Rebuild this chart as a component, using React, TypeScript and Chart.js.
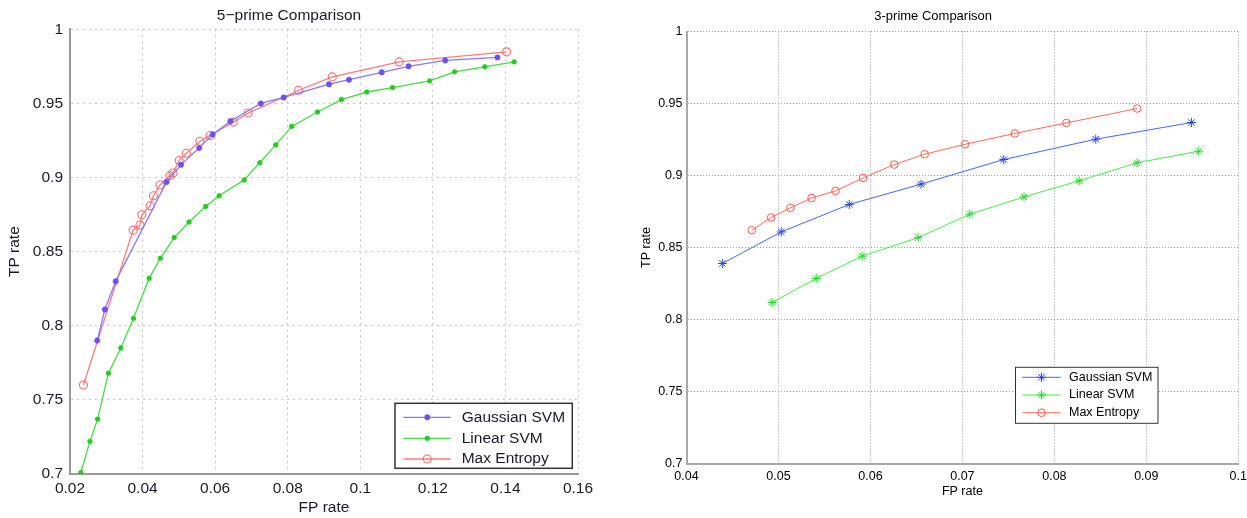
import React, { useEffect, useRef } from 'react';
import { Chart, registerables } from 'chart.js';

Chart.register(...registerables);

// ---------------- 5-prime comparison data ----------------
const fiveGaussianFP = [0.0275, 0.0296, 0.0326, 0.0466, 0.0506, 0.0556, 0.0593, 0.0642, 0.0726, 0.0789, 0.0914, 0.0969, 0.1059, 0.1133, 0.1234, 0.1378];
const fiveGaussianTP = [0.790, 0.811, 0.830, 0.897, 0.9087, 0.920, 0.929, 0.938, 0.950, 0.954, 0.963, 0.966, 0.971, 0.975, 0.979, 0.981];

const fiveLinearFP = [0.0230, 0.0255, 0.0276, 0.0306, 0.0340, 0.0375, 0.0418, 0.0449, 0.0487, 0.0528, 0.0574, 0.0611, 0.0680, 0.0723, 0.0767, 0.0811, 0.0882, 0.0948, 0.1018, 0.1089, 0.1191, 0.1260, 0.1343, 0.1424];
const fiveLinearTP = [0.701, 0.722, 0.737, 0.768, 0.785, 0.805, 0.832, 0.8455, 0.8595, 0.870, 0.8805, 0.8877, 0.8984, 0.910, 0.922, 0.9345, 0.9442, 0.9526, 0.9577, 0.9607, 0.9652, 0.9713, 0.9747, 0.978];

const fiveEntropyFP = [0.0237, 0.0374, 0.0393, 0.0398, 0.0421, 0.0430, 0.0448, 0.0475, 0.0484, 0.0501, 0.0521, 0.0558, 0.0586, 0.0650, 0.0691, 0.0830, 0.0923, 0.1107, 0.1403];
const fiveEntropyTP = [0.760, 0.8645, 0.868, 0.8749, 0.881, 0.8877, 0.895, 0.9013, 0.9031, 0.9115, 0.9164, 0.9245, 0.9284, 0.9374, 0.9435, 0.9589, 0.9679, 0.978, 0.9848];

const fiveXTicks = [0.02, 0.04, 0.06, 0.08, 0.1, 0.12, 0.14, 0.16];
const fiveXLabels = ['0.02', '0.04', '0.06', '0.08', '0.1', '0.12', '0.14', '0.16'];
const fiveYTicks = [0.7, 0.75, 0.8, 0.85, 0.9, 0.95, 1];
const fiveYLabels = ['0.7', '0.75', '0.8', '0.85', '0.9', '0.95', '1'];

// ---------------- 3-prime comparison data ----------------
const threeGaussianFP = [0.0439, 0.0503, 0.0577, 0.0655, 0.0745, 0.0845, 0.0949];
const threeGaussianTP = [0.8389, 0.8608, 0.8799, 0.8940, 0.9111, 0.9252, 0.9368];

const threeLinearFP = [0.0493, 0.0541, 0.0591, 0.0652, 0.0708, 0.0767, 0.0827, 0.0890, 0.0957];
const threeLinearTP = [0.8118, 0.8285, 0.8440, 0.8569, 0.8731, 0.8851, 0.8963, 0.9088, 0.9169];

const threeEntropyFP = [0.0471, 0.0492, 0.0513, 0.0536, 0.0562, 0.0592, 0.0626, 0.0659, 0.0703, 0.0757, 0.0813, 0.0890];
const threeEntropyTP = [0.862, 0.8708, 0.8775, 0.8844, 0.8893, 0.8983, 0.9076, 0.9148, 0.9217, 0.9292, 0.9365, 0.9465];

const threeXTicks = [0.04, 0.05, 0.06, 0.07, 0.08, 0.09, 0.1];
const threeXLabels = ['0.04', '0.05', '0.06', '0.07', '0.08', '0.09', '0.1'];
const threeYTicks = [0.7, 0.75, 0.8, 0.85, 0.9, 0.95, 1];
const threeYLabels = ['0.7', '0.75', '0.8', '0.85', '0.9', '0.95', '1'];

const seriesNames = ['Gaussian SVM', 'Linear SVM', 'Max Entropy'];

const FONT = '"Liberation Sans", Arial, Helvetica, sans-serif';

function pairs(xs: number[], ys: number[]) {
  return xs.map((x, i) => ({ x, y: ys[i] }));
}

function drawMarker(ctx: CanvasRenderingContext2D, style: string, x: number, y: number, r: number, stroke: string, fill: string, lw: number) {
  ctx.save();
  ctx.lineWidth = lw;
  ctx.strokeStyle = stroke;
  ctx.fillStyle = fill;
  ctx.beginPath();
  if (style === 'circle') {
    ctx.arc(x, y, r, 0, Math.PI * 2);
    ctx.closePath();
    if (fill !== 'transparent') ctx.fill();
    ctx.stroke();
  } else {
    let rad = 0;
    for (let k = 0; k < 4; k++) {
      const dx = Math.cos(rad) * r;
      const dy = Math.sin(rad) * r;
      ctx.moveTo(x - dx, y - dy);
      ctx.lineTo(x + dx, y + dy);
      rad += Math.PI / 4;
    }
    ctx.stroke();
  }
  ctx.restore();
}

const boxLegend = {
  id: 'boxLegend',
  afterDraw(chart: any, _args: any, opts: any) {
    if (!opts || !opts.box) return;
    const ctx: CanvasRenderingContext2D = chart.ctx;
    const b = opts.box;
    ctx.save();
    ctx.fillStyle = '#ffffff';
    ctx.fillRect(b.x, b.y, b.w, b.h);
    ctx.lineWidth = opts.borderWidth;
    ctx.strokeStyle = opts.borderColor;
    ctx.strokeRect(b.x, b.y, b.w, b.h);
    ctx.font = opts.font;
    ctx.textAlign = 'left';
    ctx.textBaseline = 'middle';
    chart.data.datasets.forEach((ds: any, i: number) => {
      const ry = opts.rows[i];
      ctx.strokeStyle = ds.borderColor;
      ctx.lineWidth = ds.borderWidth;
      ctx.beginPath();
      ctx.moveTo(opts.lineX0, ry);
      ctx.lineTo(opts.lineX1, ry);
      ctx.stroke();
      drawMarker(ctx, ds.pointStyle, opts.markerX, ry, ds.pointRadius, ds.pointBorderColor, ds.pointBackgroundColor, ds.pointBorderWidth);
      ctx.fillStyle = opts.textColor;
      ctx.fillText(ds.label, opts.textX, ry);
    });
    ctx.restore();
  },
};

function buildConfig(p: any) {
  const tickFont = { family: FONT, size: p.fontSize };
  return {
    type: 'scatter',
    data: {
      datasets: p.series.map((s: any, i: number) => ({
        label: seriesNames[i],
        data: s.data,
        showLine: true,
        borderColor: s.color,
        borderWidth: p.lineWidth,
        pointStyle: s.style,
        pointRadius: s.radius,
        pointBorderColor: s.markerColor,
        pointBackgroundColor: s.fill,
        pointBorderWidth: s.markerWidth,
        pointHoverRadius: s.radius,
      })),
    },
    options: {
      responsive: false,
      animation: false,
      devicePixelRatio: 1,
      events: [],
      layout: { padding: { left: 0, right: p.padRight, top: 0, bottom: 0 } },
      plugins: {
        legend: { display: false },
        tooltip: { enabled: false },
        title: {
          display: true,
          text: p.title,
          color: p.textColor,
          font: { family: FONT, size: p.titleSize, weight: 'normal' },
          padding: { top: p.titlePadTop, bottom: p.titlePadBottom },
        },
        boxLegend: p.legend,
      },
      scales: {
        x: {
          type: 'linear',
          min: p.xTicks[0],
          max: p.xTicks[p.xTicks.length - 1],
          afterBuildTicks: (s: any) => { s.ticks = p.xTicks.map((v: number) => ({ value: v })); },
          afterFit: (s: any) => { s.height = p.xAxisHeight; },
          ticks: {
            autoSkip: false,
            maxRotation: 0,
            padding: p.xTickPad,
            color: p.textColor,
            font: tickFont,
            callback: (_v: any, i: number) => p.xLabels[i],
          },
          grid: { color: p.gridColor, lineWidth: 1, drawTicks: false },
          border: { display: true, color: p.axisColor, width: p.axisWidth, dash: p.gridDash },
          title: {
            display: true,
            text: 'FP rate',
            color: p.textColor,
            font: tickFont,
            padding: { top: 0, bottom: p.xTitlePadBottom },
          },
        },
        y: {
          type: 'linear',
          min: p.yTicks[0],
          max: p.yTicks[p.yTicks.length - 1],
          afterBuildTicks: (s: any) => { s.ticks = p.yTicks.map((v: number) => ({ value: v })); },
          afterFit: (s: any) => { s.width = p.yAxisWidth; },
          ticks: {
            autoSkip: false,
            padding: p.yTickPad,
            color: p.textColor,
            font: tickFont,
            callback: (_v: any, i: number) => p.yLabels[i],
          },
          grid: { color: p.gridColor, lineWidth: 1, drawTicks: false },
          border: { display: true, color: p.axisColor, width: p.axisWidth, dash: p.gridDash },
          title: {
            display: true,
            text: 'TP rate',
            color: p.textColor,
            font: tickFont,
            padding: { top: p.yTitlePadTop, bottom: 0 },
          },
        },
      },
    },
    plugins: [boxLegend],
  };
}

const fiveConfig = buildConfig({
  title: '5\u2212prime Comparison',
  fontSize: 15.5,
  titleSize: 15.5,
  textColor: '#1a1a2a',
  lineWidth: 1.3,
  padRight: 67,
  titlePadTop: 6,
  titlePadBottom: 4.7,
  xAxisHeight: 44,
  xTickPad: 5,
  xTitlePadBottom: 1,
  yAxisWidth: 70,
  yTickPad: 7,
  yTitlePadTop: 5.7,
  gridColor: '#c4c4c4',
  gridDash: [2, 4],
  axisColor: '#9a9a9a',
  axisWidth: 2,
  xTicks: fiveXTicks,
  xLabels: fiveXLabels,
  yTicks: fiveYTicks,
  yLabels: fiveYLabels,
  series: [
    { data: pairs(fiveGaussianFP, fiveGaussianTP), color: '#8877ff', markerColor: '#6a50ff', fill: '#6a50ff', style: 'star', radius: 3, markerWidth: 1.8 },
    { data: pairs(fiveLinearFP, fiveLinearTP), color: '#44dd44', markerColor: '#22cc22', fill: '#22cc22', style: 'circle', radius: 2.2, markerWidth: 1 },
    { data: pairs(fiveEntropyFP, fiveEntropyTP), color: '#ff7a7a', markerColor: '#ff6a6a', fill: 'transparent', style: 'circle', radius: 4, markerWidth: 1.1 },
  ],
  legend: {
    box: { x: 395, y: 403.3, w: 177.3, h: 65 },
    borderColor: '#333333',
    borderWidth: 1.5,
    rows: [417.3, 438.3, 459],
    lineX0: 403.3,
    lineX1: 450.7,
    markerX: 427.3,
    textX: 461.7,
    font: `15.5px ${FONT}`,
    textColor: '#1a1a2a',
  },
});

const RIGHT_LEFT = 628;

const threeConfig = buildConfig({
  title: '3-prime Comparison',
  fontSize: 12.5,
  titleSize: 13,
  textColor: '#000000',
  lineWidth: 1,
  padRight: 670 - (1238.3 - RIGHT_LEFT),
  titlePadTop: 8.9,
  titlePadBottom: 7,
  xAxisHeight: 54.5,
  xTickPad: 5.7,
  xTitlePadBottom: 18.8,
  yAxisWidth: 686.5 - RIGHT_LEFT,
  yTickPad: 4,
  yTitlePadTop: 11.2,
  gridColor: '#9a9a9a',
  gridDash: [1, 2],
  axisColor: '#a8a8a8',
  axisWidth: 2,
  xTicks: threeXTicks,
  xLabels: threeXLabels,
  yTicks: threeYTicks,
  yLabels: threeYLabels,
  series: [
    { data: pairs(threeGaussianFP, threeGaussianTP), color: '#4466ff', markerColor: '#2244ff', fill: '#2244ff', style: 'star', radius: 4.5, markerWidth: 1 },
    { data: pairs(threeLinearFP, threeLinearTP), color: '#44ee44', markerColor: '#22dd22', fill: '#22dd22', style: 'star', radius: 4.5, markerWidth: 1 },
    { data: pairs(threeEntropyFP, threeEntropyTP), color: '#ff6a5a', markerColor: '#ff5a4a', fill: 'transparent', style: 'circle', radius: 3.8, markerWidth: 1 },
  ],
  legend: {
    box: { x: 1015.5 - RIGHT_LEFT, y: 367.3, w: 142.5, h: 56 },
    borderColor: '#333333',
    borderWidth: 1,
    rows: [377.3, 395, 412.7],
    lineX0: 1022.4 - RIGHT_LEFT,
    lineX1: 1060.7 - RIGHT_LEFT,
    markerX: 1041.5 - RIGHT_LEFT,
    textX: 1069 - RIGHT_LEFT,
    font: `12.5px ${FONT}`,
    textColor: '#000000',
  },
});

function ChartPanel({ config, left, width }: { config: any; left: number; width: number }) {
  const ref = useRef<HTMLCanvasElement | null>(null);
  useEffect(() => {
    if (!ref.current) return;
    const chart = new Chart(ref.current, config);
    return () => chart.destroy();
  }, [config]);
  return (
    <div style={{ position: 'absolute', left, top: 0, width, height: 518 }}>
      <canvas ref={ref} width={width} height={518} style={{ display: 'block', width, height: 518 }} />
    </div>
  );
}

export default function App() {
  return (
    <div style={{ position: 'fixed', left: 0, top: 0, width: 1247, height: 518, overflow: 'hidden', background: '#ffffff' }}>
      <ChartPanel config={fiveConfig} left={0} width={645} />
      <ChartPanel config={threeConfig} left={RIGHT_LEFT} width={670} />
    </div>
  );
}
